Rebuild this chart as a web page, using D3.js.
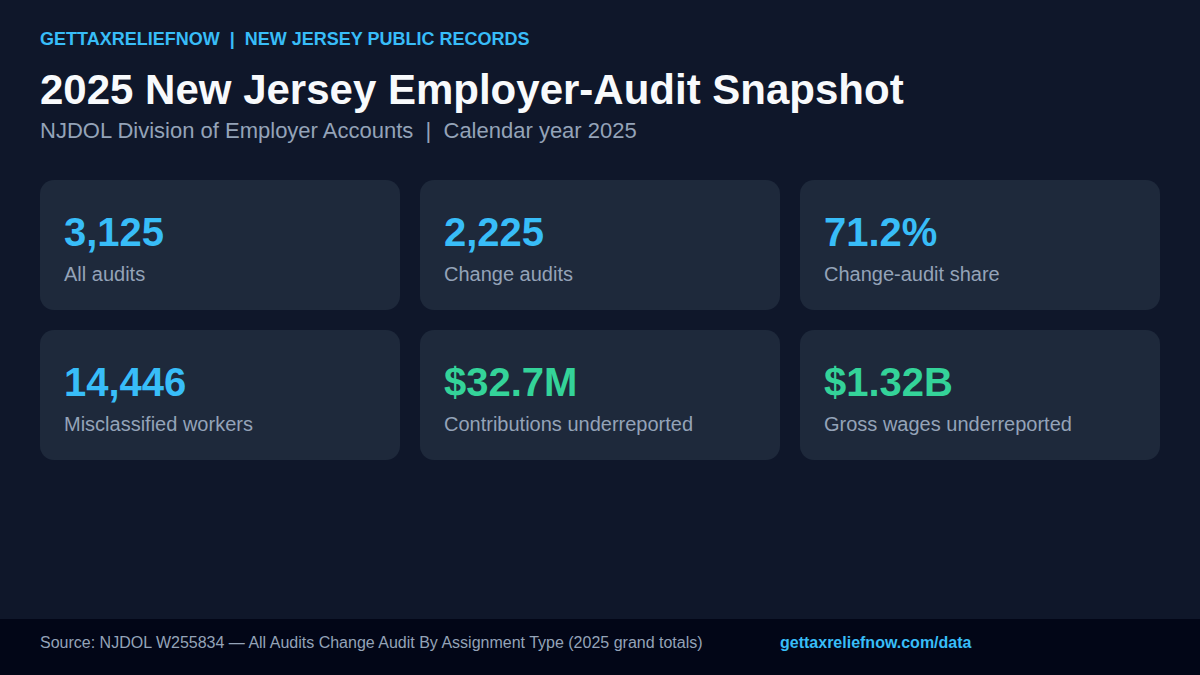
<!DOCTYPE html>
<html><head><meta charset="utf-8">
<script src="https://cdn.jsdelivr.net/npm/d3@7"></script>
<style>html,body{margin:0;padding:0;background:#0f172a;}svg{display:block;}</style>
</head><body>
<svg id="c" width="1200" height="675"></svg>
<script>
const kpiValues = ["3,125", "2,225", "71.2%", "14,446", "$32.7M", "$1.32B"];
const kpiLabels = ["All audits", "Change audits", "Change-audit share", "Misclassified workers", "Contributions underreported", "Gross wages underreported"];
const kpiKinds = ["count", "count", "count", "count", "money", "money"];
const kicker = "GETTAXRELIEFNOW  |  NEW JERSEY PUBLIC RECORDS";
const title = "2025 New Jersey Employer-Audit Snapshot";
const subtitle = "NJDOL Division of Employer Accounts  |  Calendar year 2025";
const source = "Source: NJDOL W255834 — All Audits Change Audit By Assignment Type (2025 grand totals)";
const link = "gettaxreliefnow.com/data";

const font = "'Liberation Sans', Arial, sans-serif";
const svg = d3.select("#c").style("font-family", font);
svg.append("rect").attr("width",1200).attr("height",675).attr("fill","#0f172a");

svg.append("text").attr("x",40).attr("y",45).attr("fill","#38bdf8")
  .attr("font-size",18).attr("font-weight","bold")
  .style("white-space","pre").attr("xml:space","preserve").text(kicker);
svg.append("text").attr("x",40).attr("y",104).attr("fill","#f8fafc")
  .attr("font-size",42).attr("font-weight","bold").text(title);
svg.append("text").attr("x",40).attr("y",138).attr("fill","#94a3b8")
  .attr("font-size",22).style("white-space","pre").attr("xml:space","preserve").text(subtitle);

const col = d3.scaleBand().domain([0,1,2]).range([40,1160]).paddingInner(20/380).paddingOuter(0);
const row = d3.scaleBand().domain([0,1]).range([180,460]).paddingInner(20/150).paddingOuter(0);
const colorFor = {count:"#38bdf8", money:"#34d399"};

const cards = svg.selectAll("g.card").data(kpiValues.map((v,i)=>({v, l:kpiLabels[i], k:kpiKinds[i], i})))
  .join("g").attr("class","card")
  .attr("transform", d=>`translate(${col(d.i%3)},${row(Math.floor(d.i/3))})`);
cards.append("rect").attr("width",col.bandwidth()).attr("height",row.bandwidth())
  .attr("rx",14).attr("fill","#1e293b");
cards.append("text").attr("x",24).attr("y",66).attr("fill",d=>colorFor[d.k])
  .attr("font-size",40).attr("font-weight","bold").text(d=>d.v);
cards.append("text").attr("x",24).attr("y",101).attr("fill","#94a3b8")
  .attr("font-size",20).text(d=>d.l);

svg.append("rect").attr("x",0).attr("y",619).attr("width",1200).attr("height",56).attr("fill","#020617");
svg.append("text").attr("x",40).attr("y",648).attr("fill","#94a3b8").attr("font-size",16).text(source);
svg.append("text").attr("x",780).attr("y",648).attr("fill","#38bdf8").attr("font-size",16)
  .attr("font-weight","bold").text(link);
</script>
</body></html>
